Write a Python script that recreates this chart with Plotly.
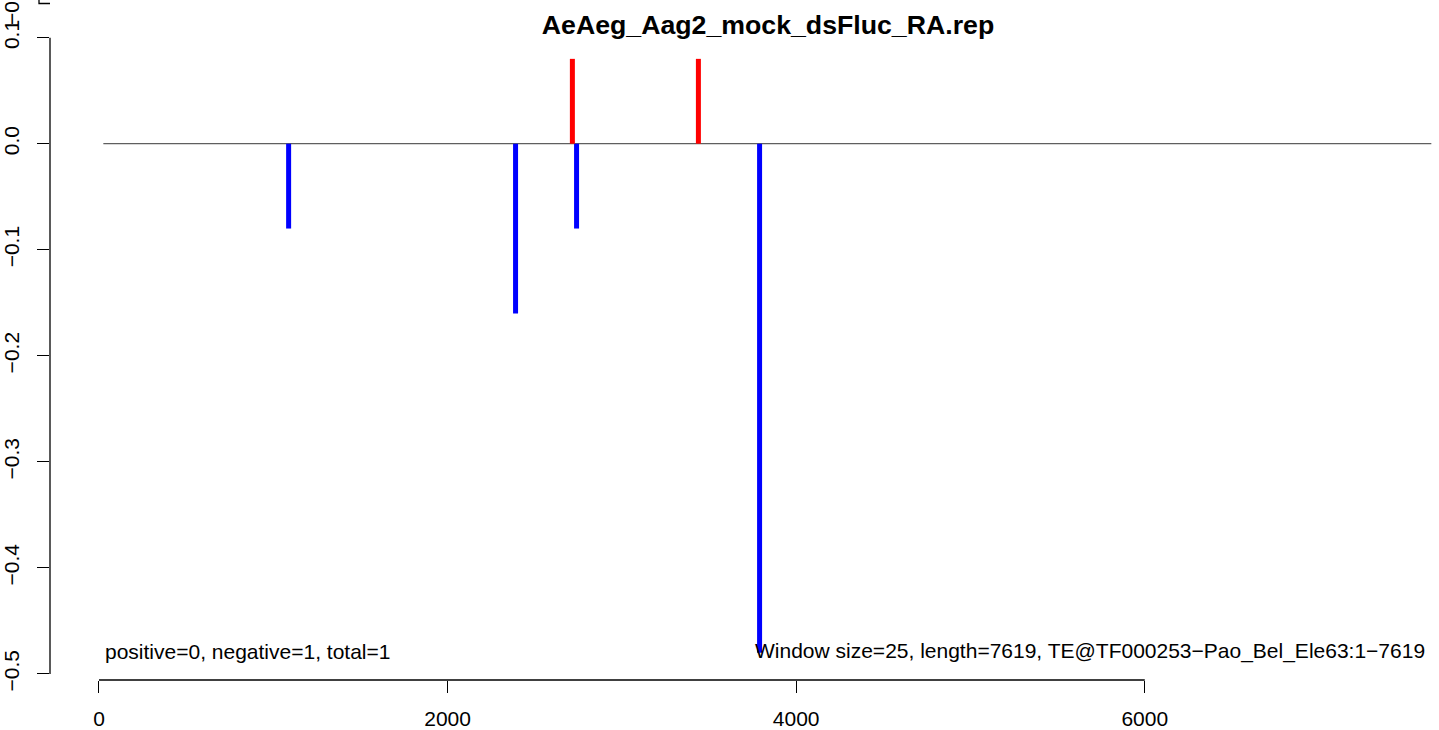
import plotly.graph_objects as go

# ---- data ----
title_text = "AeAeg_Aag2_mock_dsFluc_RA.rep"
window_size = 25
seq_length = 7619
te_name = "TE@TF000253\u2212Pao_Bel_Ele63:1\u22127619"

neg_pos = [1088, 2390, 2740, 3790]
neg_val = [-0.08, -0.16, -0.08, -0.48]
pos_pos = [2716, 3439]
pos_val = [0.08, 0.08]

x_ticks = [0, 2000, 4000, 6000]
y_ticks = [-0.5, -0.4, -0.3, -0.2, -0.1, 0.0, 0.1]
y_tick_labels = ["\u22120.5", "\u22120.4", "\u22120.3", "\u22120.2", "\u22120.1", "0.0", "0.1"]

n_positive, n_negative, n_total = 0, 1, 1

FONT = "Liberation Sans, Arial, Helvetica, sans-serif"


def stems(xs, ys):
    sx, sy = [], []
    for x, y in zip(xs, ys):
        sx += [x, x, None]
        sy += [0, y, None]
    return sx, sy


fig = go.Figure()

# baseline at zero
fig.add_trace(go.Scatter(
    x=[window_size, seq_length + window_size], y=[0, 0], mode="lines",
    line=dict(color="#5f5f5f", width=1.2), hoverinfo="skip", showlegend=False))

nx, ny = stems(neg_pos, neg_val)
fig.add_trace(go.Scatter(x=nx, y=ny, mode="lines",
                         line=dict(color="#0000FF", width=5), showlegend=False))
px_, py_ = stems(pos_pos, pos_val)
fig.add_trace(go.Scatter(x=px_, y=py_, mode="lines",
                         line=dict(color="#FF0000", width=5), showlegend=False))

fig.update_layout(
    width=1439, height=730,
    margin=dict(l=50, r=0, t=0, b=50, autoexpand=False),
    paper_bgcolor="white", plot_bgcolor="white",
    font=dict(family=FONT, size=21, color="black"),
    title=dict(text="<b>" + title_text + "</b>", x=768 / 1439, xanchor="center",
               xref="container", y=1 - 24.5 / 730, yref="container", yanchor="middle",
               font=dict(family=FONT, size=26.7, color="black")),
    xaxis=dict(range=[-281, 7688], showgrid=False, zeroline=False, showline=False,
               automargin=False,
               tickmode="array", tickvals=x_ticks, ticktext=[str(v) for v in x_ticks],
               ticks="outside", ticklen=12, tickwidth=1.3, tickcolor="black",
               ticklabelstandoff=8, tickfont=dict(size=21)),
    yaxis=dict(range=[-0.5057, 0.1355], showgrid=False, zeroline=False, showline=False,
               automargin=False,
               tickmode="array", tickvals=y_ticks, ticktext=y_tick_labels,
               ticks="outside", ticklen=12, tickwidth=1.3, tickcolor="black",
               tickangle=-90, ticklabelstandoff=10, tickfont=dict(size=21)),
    showlegend=False,
)

# axis lines spanning first to last tick (R style)
fig.add_shape(type="line", xref="x", yref="paper", x0=x_ticks[0], x1=x_ticks[-1],
              y0=0, y1=0, line=dict(color="black", width=1.3))
fig.add_shape(type="line", xref="paper", yref="y", x0=0, x1=0,
              y0=y_ticks[0], y1=y_ticks[-1], line=dict(color="black", width=1.3))

# remnant of the panel above (cropped)
fig.add_shape(type="path", xref="paper", yref="paper",
              path="M {a},1.01 L {a},{b} L 0,{b}".format(a=-11 / 1389, b=1 - 3.5 / 680),
              line=dict(color="black", width=1.3))
fig.add_annotation(text="\u22120.5", xref="paper", yref="paper",
                   x=-38 / 1389, y=1 - 5 / 680, xanchor="center", yanchor="middle",
                   textangle=-90, showarrow=False, font=dict(size=21))

fig.add_annotation(text=f"positive={n_positive}, negative={n_negative}, total={n_total}",
                   x=window_size, y=-0.4788, xref="x", yref="y",
                   xanchor="left", yanchor="middle", showarrow=False, font=dict(size=21))
fig.add_annotation(text=f"Window size={window_size}, length={seq_length}, {te_name}",
                   x=seq_length, y=-0.4788, xref="x", yref="y",
                   xanchor="right", yanchor="middle", showarrow=False, font=dict(size=21))

fig.write_html("out.html", config={"displayModeBar": False},
               post_script="document.body.style.margin='0';")
